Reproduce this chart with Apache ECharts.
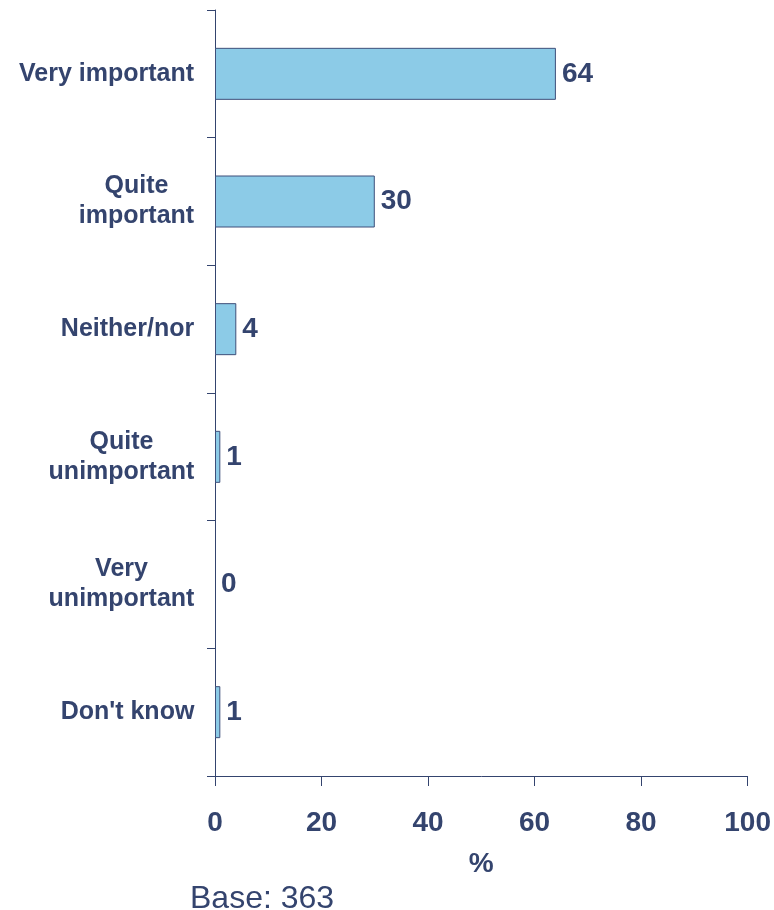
<!DOCTYPE html>
<html>
<head>
<meta charset="utf-8">
<title>Importance</title>
<script src="https://cdn.jsdelivr.net/npm/echarts/dist/echarts.min.js"></script>
<style>
  html, body { margin: 0; padding: 0; background: #ffffff; }
  #chart { width: 774px; height: 910px; }
</style>
</head>
<body>
<div id="chart"></div>
<script>
// Survey answers, top to bottom
const categories = ['Very important', 'Quite\nimportant', 'Neither/nor', 'Quite\nunimportant', 'Very\nunimportant', "Don't know"];
// Share of respondents (%)
const values = [64, 30, 4, 1, 0, 1];
// Percentage axis ticks
const xTicks = [0, 20, 40, 60, 80, 100];
const axisTitle = '%';
const baseNote = 'Base: 363';

const NAVY = '#34446e';
const FONT = '"Liberation Sans", Arial, Helvetica, sans-serif';
const CAT_SIZE = 25;

// Multi-line category labels: lines centred on each other, block right-aligned
const ctx = document.createElement('canvas').getContext('2d');
ctx.font = 'bold ' + CAT_SIZE + 'px ' + FONT;
const rich = {};
categories.forEach((c, i) => {
  const w = Math.max(...c.split('\n').map(s => ctx.measureText(s).width));
  rich['c' + i] = {
    width: Math.ceil(w) + 1, align: 'center', fontWeight: 'bold',
    fontSize: CAT_SIZE, fontFamily: FONT, color: NAVY, lineHeight: 30
  };
});

// Empty answers get no outline so no sliver is drawn at zero
const barData = values.map(v => ({
  value: v,
  itemStyle: { borderWidth: v === 0 ? 0 : 1 }
}));

const chart = echarts.init(document.getElementById('chart'), null, { renderer: 'canvas' });
chart.setOption({
  animation: false,
  backgroundColor: '#ffffff',
  grid: { left: 215, right: 25, top: 10, bottom: 134, containLabel: false },
  xAxis: {
    type: 'value',
    min: xTicks[0],
    max: xTicks[xTicks.length - 1],
    interval: xTicks[1] - xTicks[0],
    splitLine: { show: false },
    axisLine: { show: true, lineStyle: { color: NAVY, width: 1 } },
    axisTick: { show: true, length: 10, lineStyle: { color: NAVY } },
    axisLabel: { margin: 33, color: NAVY, fontSize: 28, fontWeight: 'bold', fontFamily: FONT },
    name: axisTitle,
    nameLocation: 'middle',
    nameGap: 74,
    nameTextStyle: { color: NAVY, fontSize: 28, fontWeight: 'bold', fontFamily: FONT }
  },
  yAxis: {
    type: 'category',
    inverse: true,
    data: categories,
    axisLine: { show: true, lineStyle: { color: NAVY, width: 1 } },
    axisTick: { show: true, length: 8, lineStyle: { color: NAVY } },
    axisLabel: {
      margin: 20,
      align: 'right',
      formatter: (v, i) => v.split('\n').map(s => '{c' + i + '|' + s + '}').join('\n'),
      rich: rich
    }
  },
  series: [{
    type: 'bar',
    data: barData,
    barWidth: 52,
    itemStyle: { color: '#8ccbe7', borderColor: '#3e4f7a', borderWidth: 1 },
    label: {
      show: true, position: 'right', distance: 6,
      color: NAVY, fontSize: 28, fontWeight: 'bold', fontFamily: FONT
    }
  }],
  graphic: [{
    type: 'text',
    left: 190,
    top: 883,
    style: { text: baseNote, fill: NAVY, fontSize: 32, fontFamily: FONT }
  }]
});
</script>
</body>
</html>
